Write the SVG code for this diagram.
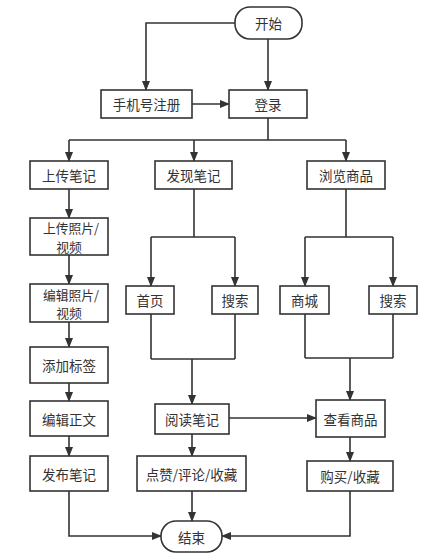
<svg xmlns="http://www.w3.org/2000/svg" width="445" height="554" viewBox="0 0 445 554">
<defs>
<marker id="ah" markerWidth="10" markerHeight="8" refX="9" refY="4" orient="auto" markerUnits="userSpaceOnUse">
<path d="M0,0 L10,4 L0,8 Z" fill="#333"/>
</marker>
<style>
.box{fill:#fff;stroke:#333;stroke-width:1.6}
.t{font-family:"Noto Sans CJK SC","Microsoft YaHei",sans-serif;font-size:13.5px;fill:#333;text-anchor:middle;dominant-baseline:central}
.t2{font-size:12.8px}
.c{fill:none;stroke:#333;stroke-width:1.6}
.a{marker-end:url(#ah)}
</style>
</defs>
<rect width="445" height="554" fill="#fff"/>
<g id="connectors">
<path class="c a" d="M235,23 H146 V90"/>
<path class="c a" d="M268,39 V90"/>
<path class="c a" d="M192,104 H229"/>
<path class="c" d="M268,118 V140 M69,140 H346"/>
<path class="c a" d="M69,140 V161"/>
<path class="c a" d="M194,140 V161"/>
<path class="c a" d="M346,140 V161"/>
<path class="c a" d="M69,189 V218"/>
<path class="c a" d="M69,255 V284"/>
<path class="c a" d="M69,322 V347"/>
<path class="c a" d="M69,383 V401"/>
<path class="c a" d="M69,436 V456"/>
<path class="c" d="M194,189 V237 M151,237 H235"/>
<path class="c a" d="M151,237 V286"/>
<path class="c a" d="M235,237 V286"/>
<path class="c" d="M346,189 V237 M305,237 H393"/>
<path class="c a" d="M305,237 V286"/>
<path class="c a" d="M393,237 V286"/>
<path class="c" d="M151,314 V359 M235,314 V359 M151,359 H235"/>
<path class="c a" d="M192,359 V404"/>
<path class="c" d="M305,314 V358 M393,314 V358 M305,358 H393"/>
<path class="c a" d="M350,358 V400"/>
<path class="c a" d="M229,418 H316"/>
<path class="c a" d="M192,434 V456"/>
<path class="c a" d="M350,437 V461"/>
<path class="c a" d="M69,491 V536 H161"/>
<path class="c a" d="M192,491 V521"/>
<path class="c a" d="M350,491 V536 H222"/>
</g>
<g id="start"><rect class="box" x="235" y="7" width="67" height="32" rx="15"/><text class="t" x="268.5" y="23">开始</text></g>
<g id="register"><rect class="box" x="101" y="90" width="91" height="28"/><text class="t" x="146.5" y="104">手机号注册</text></g>
<g id="login"><rect class="box" x="229" y="90" width="78" height="28"/><text class="t" x="268" y="104">登录</text></g>
<g id="upload"><rect class="box" x="30" y="161" width="78" height="28"/><text class="t" x="69" y="175">上传笔记</text></g>
<g id="discover"><rect class="box" x="155" y="161" width="77" height="28"/><text class="t" x="193.5" y="175">发现笔记</text></g>
<g id="browse"><rect class="box" x="307" y="161" width="78" height="28"/><text class="t" x="346" y="175">浏览商品</text></g>
<g id="uploadPhoto"><rect class="box" x="30" y="218" width="78" height="37"/><text class="t t2" x="71" y="227.5">上传照片/</text><text class="t t2" x="69" y="246">视频</text></g>
<g id="editPhoto"><rect class="box" x="30" y="284" width="78" height="38"/><text class="t t2" x="71" y="294">编辑照片/</text><text class="t t2" x="69" y="312.5">视频</text></g>
<g id="addTag"><rect class="box" x="30" y="347" width="78" height="36"/><text class="t" x="69" y="365">添加标签</text></g>
<g id="editText"><rect class="box" x="30" y="401" width="78" height="35"/><text class="t" x="69" y="418.5">编辑正文</text></g>
<g id="publish"><rect class="box" x="30" y="456" width="78" height="35"/><text class="t" x="69" y="473.5">发布笔记</text></g>
<g id="home"><rect class="box" x="126" y="286" width="48" height="28"/><text class="t" x="150" y="300">首页</text></g>
<g id="search1"><rect class="box" x="212" y="286" width="46" height="28"/><text class="t" x="235" y="300">搜索</text></g>
<g id="mall"><rect class="box" x="280" y="286" width="49" height="28"/><text class="t" x="304.5" y="300">商城</text></g>
<g id="search2"><rect class="box" x="369" y="286" width="48" height="28"/><text class="t" x="393" y="300">搜索</text></g>
<g id="read"><rect class="box" x="155" y="404" width="74" height="30"/><text class="t" x="192" y="419">阅读笔记</text></g>
<g id="view"><rect class="box" x="316" y="400" width="69" height="37"/><text class="t" x="350.5" y="418.5">查看商品</text></g>
<g id="like"><rect class="box" x="137" y="456" width="109" height="35"/><text class="t" x="191.5" y="473.5">点赞/评论/收藏</text></g>
<g id="buy"><rect class="box" x="307" y="461" width="86" height="30"/><text class="t" x="350" y="476">购买/收藏</text></g>
<g id="end"><rect class="box" x="161" y="521" width="61" height="31" rx="15"/><text class="t" x="191.5" y="536.5">结束</text></g>
</svg>
